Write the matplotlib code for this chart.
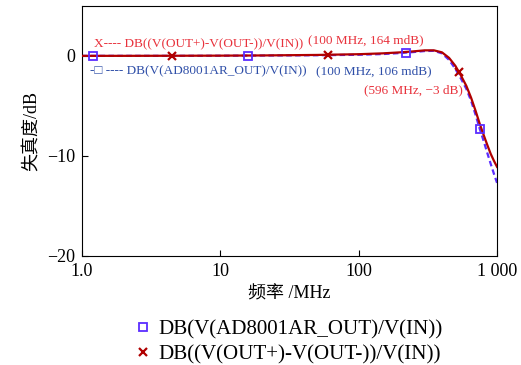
import numpy as np
import matplotlib
matplotlib.use("Agg")
import matplotlib.pyplot as plt

plt.rcParams['font.family'] = ['Liberation Serif', 'Noto Sans CJK SC']
plt.rcParams['axes.unicode_minus'] = True

# frequency response samples (MHz, dB)
freq = [1, 2, 5, 10, 20, 50, 100, 150, 200, 250, 300, 350, 400, 450, 500,
        550, 600, 650, 700, 750, 800, 850, 900, 950, 1000]
diff_db = [0.0, 0.0, 0.01, 0.02, 0.04, 0.09, 0.164, 0.25, 0.35, 0.45, 0.55,
           0.55, 0.35, -0.2, -1.0, -2.0, -3.0, -4.2, -5.5, -6.8, -7.9, -8.9,
           -9.8, -10.5, -11.1]
amp_db = [0.0, 0.0, 0.0, 0.01, 0.03, 0.06, 0.106, 0.18, 0.28, 0.38, 0.48,
          0.5, 0.25, -0.4, -1.3, -2.3, -3.3, -4.5, -5.9, -7.3, -8.5, -9.7,
          -10.8, -11.8, -12.7]

# marker positions along each trace
amp_mark_f = [1.2, 16, 220, 750]
diff_mark_f = [4.5, 60, 530]

red = '#b00000'
blue = '#5b2dff'

fig = plt.figure(figsize=(5.21, 3.65), dpi=100)
ax = fig.add_axes([0.157, 0.299, 0.797, 0.685])

lf = np.log10(freq)
ax.plot(freq, diff_db, color=red, lw=1.6, zorder=3)
ax.plot(freq, amp_db, color=blue, lw=1.6, ls=(0, (2.5, 1.5)), zorder=2)

amp_mark_y = np.interp(np.log10(amp_mark_f), lf, amp_db)
diff_mark_y = np.interp(np.log10(diff_mark_f), lf, diff_db)
ax.plot(amp_mark_f, amp_mark_y, ls='none', marker='s', ms=5.5, mfc='none',
        mec=blue, mew=1.3, zorder=4,
        label='DB(V(AD8001AR_OUT)/V(IN))')
ax.plot(diff_mark_f, diff_mark_y, ls='none', marker='x', ms=6, mec=red,
        mew=1.6, zorder=5,
        label='DB((V(OUT+)-V(OUT-))/V(IN))')

ax.set_xscale('log')
ax.set_xlim(1, 1000)
ax.set_ylim(-20, 5)
ax.set_xticks([1, 10, 100, 1000])
ax.set_xticklabels(['1.0', '10', '100', '1 000'])
ax.minorticks_off()
ax.set_yticks([0, -10, -20])
ax.tick_params(direction='in', labelsize=13, length=4)
ax.tick_params(axis='x', pad=5)
ax.tick_params(axis='y', pad=5)
ax.set_xlabel('频率 /MHz', fontsize=13, labelpad=4)
ax.set_ylabel('失真度/dB', fontsize=13, labelpad=4)

ax.text(1.22, 1.2, 'X---- DB((V(OUT+)-V(OUT-))/V(IN))', color='#e8323c',
        fontsize=9.5, va='center')
ax.text(1.15, -1.5, '-□ ---- DB(V(AD8001AR_OUT)/V(IN))', color='#2f4fa8',
        fontsize=9.5, va='center')
ax.text(43, 1.6, '(100 MHz, 164 mdB)', color='#e8323c', fontsize=9.5,
        va='center')
ax.text(49, -1.5, '(100 MHz, 106 mdB)', color='#2f4fa8', fontsize=9.5,
        va='center')
ax.text(110, -3.4, '(596 MHz, −3 dB)', color='#e8323c', fontsize=9.5,
        va='center')

fig.legend(loc='center', bbox_to_anchor=(0.556, 0.062), frameon=False,
           fontsize=15.1, handlelength=0.6, handletextpad=0.45,
           labelspacing=0.25, borderpad=0)

fig.savefig('out.png', dpi=100)
